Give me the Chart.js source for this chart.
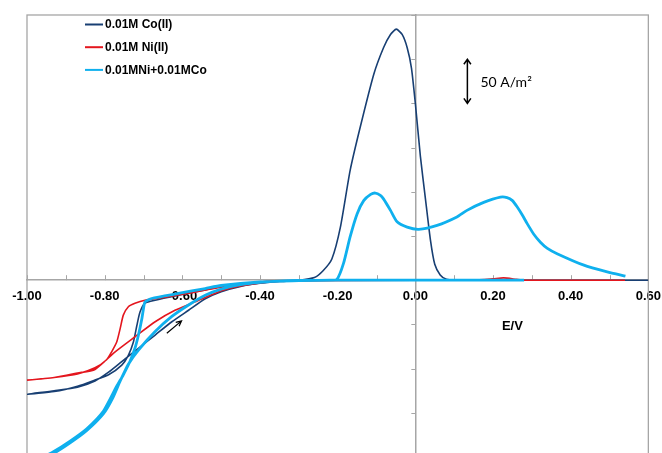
<!DOCTYPE html>
<html>
<head>
<meta charset="utf-8">
<script src="https://cdn.jsdelivr.net/npm/chart.js@4"></script>
<style>
  html, body { margin: 0; padding: 0; background: #fff; overflow: hidden; }
  #wrap { position: relative; width: 669px; height: 470px; }
</style>
</head>
<body>
<div id="wrap"><canvas id="cv"></canvas></div>
<script>
// Potencial (V) y densidad de corriente (A/m2)
const coE = [0.60, 0.30, 0.00, -0.20, -0.30, -0.40, -0.50, -0.541, -0.61, -0.67, -0.696, -0.709, -0.717, -0.726, -0.739, -0.756, -0.79, -0.825, -0.87, -0.93, -1.00,
  -0.93, -0.87, -0.825, -0.79, -0.756, -0.713, -0.67, -0.627, -0.584, -0.541, -0.50, -0.45, -0.40, -0.35, -0.30, -0.26, -0.237, -0.215, -0.193, -0.168, -0.142, -0.107, -0.082, -0.064, -0.049, -0.034, -0.021, -0.010, 0.000, 0.013, 0.026, 0.039, 0.050, 0.064, 0.080, 0.10, 0.30, 0.60]
const coJ = [0, 0, 0, 0, -0.5, -2.5, -7, -11, -17, -22.6, -26, -36, -51, -70, -85, -96, -107, -113, -120, -126, -129,
  -125, -121, -114, -104, -92, -77, -62, -47, -34, -21, -13, -7, -3.5, -1.5, 0, 3, 11, 24, 60, 124, 173, 233, 263, 278, 284, 278, 263, 240, 200, 140, 92, 45, 18, 6, 1, 0, 0, 0]

const niE = [0.54, 0.28, 0.00, -0.30, -0.40, -0.50, -0.588, -0.64, -0.696, -0.722, -0.739, -0.752, -0.76, -0.769, -0.782, -0.795, -0.825, -0.87, -0.93, -1.00,
  -0.93, -0.87, -0.825, -0.773, -0.722, -0.67, -0.619, -0.567, -0.50, -0.45, -0.40, -0.35, -0.30, -0.20, 0.15, 0.20, 0.227, 0.26, 0.28]
const niJ = [0, 0, 0, -0.5, -2, -8, -15, -19, -22.6, -26, -30, -39.5, -54.5, -70, -81, -90, -99, -106, -110, -113,
  -110, -105, -101, -81, -64, -47, -34, -24.5, -12, -6.5, -3, -1.2, -0.5, 0, 0, 1.5, 2.6, 1, 0]

const mixE = [0.28, 0.00, -0.20, -0.30, -0.40, -0.50, -0.541, -0.61, -0.679, -0.696, -0.70, -0.704, -0.713, -0.722, -0.735, -0.752, -0.769, -0.803, -0.846, -0.889, -0.932, -1.00,
  -0.932, -0.889, -0.846, -0.803, -0.78, -0.76, -0.739, -0.713, -0.67, -0.627, -0.584, -0.541, -0.50, -0.45, -0.40, -0.35, -0.30, -0.22, -0.202, -0.185, -0.168, -0.150, -0.133, -0.115, -0.103, -0.09, -0.082, -0.064, -0.047, -0.021, 0.009, 0.056, 0.107, 0.133, 0.176, 0.219, 0.236, 0.25, 0.262, 0.275, 0.288, 0.305, 0.322, 0.34, 0.365, 0.434, 0.494, 0.541]
const mixJ = [0, 0, 0, -0.5, -2, -6, -9.4, -15, -20.7, -24.5, -32, -43, -62, -77, -92, -107, -120, -148, -168, -182, -194, -210,
  -196, -184, -170, -151, -134, -114, -95, -79, -58, -41, -28, -17, -10, -5, -2.5, -1, -0.3, 0, 0.8, 19, 49, 75, 90, 97, 98.6, 96, 92, 79, 66, 60, 57.6, 62, 71.5, 79, 88, 94, 93.5, 90, 83, 74, 64, 52, 43, 36, 30, 17, 9.4, 4.5]

const seriesNames = ['0.01M Co(II)', '0.01M Ni(II)', '0.01MNi+0.01MCo']
const eMin = -1.0, eMax = 0.6, eStep = 0.1
const jMin = -200, jMax = 300, jStep = 50
// flecha de escala (50 A/m2) y flecha del sentido de barrido
const scaleBar = { e: 0.134, from: 200, to: 250, text: '50 A/m²' }
const scanArrow = { from: [-0.64, -60], to: [-0.602, -46] }

const toPoints = (xs, ys) => xs.map((v, i) => ({ x: v, y: ys[i] }))

const etiquetaX = v => {
  const r = Math.round(v * 10)
  if (r % 2 !== 0) return ''
  return (r / 10).toFixed(2)
}

const decor = {
  id: 'decor',
  beforeDatasetsDraw(chart) {
    const { ctx, chartArea: a, scales: { x, y } } = chart
    ctx.save()
    ctx.strokeStyle = '#a6a6a6'
    ctx.lineWidth = 1.3
    ctx.strokeRect(a.left, a.top, a.right - a.left, a.bottom - a.top)
    const x0 = x.getPixelForValue(0), y0 = y.getPixelForValue(0)
    ctx.lineWidth = 1
    ctx.beginPath()
    x.ticks.forEach(t => {
      const px = Math.round(x.getPixelForValue(t.value)) + 0.5
      ctx.moveTo(px, y0); ctx.lineTo(px, y0 - 5)
    })
    y.ticks.forEach(t => {
      const py = Math.round(y.getPixelForValue(t.value)) + 0.5
      ctx.moveTo(x0 - 4, py); ctx.lineTo(x0, py)
    })
    ctx.stroke()
    ctx.restore()
  },
  afterDraw(chart) {
    const { ctx, chartArea: a, scales: { x, y } } = chart
    ctx.save()
    // leyenda
    chart.data.datasets.forEach((ds, i) => {
      const ly = a.top + 9.5 + i * 22.7
      ctx.strokeStyle = ds.borderColor
      ctx.lineWidth = 2
      ctx.beginPath(); ctx.moveTo(a.left + 58, ly); ctx.lineTo(a.left + 76, ly); ctx.stroke()
      ctx.fillStyle = '#000'
      ctx.font = 'bold 12px "Liberation Sans", Arial, sans-serif'
      ctx.textBaseline = 'middle'
      ctx.fillText(ds.label, a.left + 78, ly + 0.5)
    })
    // titulo eje x
    ctx.font = 'bold 13px "Liberation Sans", Arial, sans-serif'
    ctx.textAlign = 'center'
    ctx.textBaseline = 'middle'
    ctx.fillText('E/V', x.getPixelForValue(0.25), y.getPixelForValue(0) + 46)
    // flecha doble de escala
    const bx = x.getPixelForValue(scaleBar.e)
    const b1 = y.getPixelForValue(scaleBar.to), b2 = y.getPixelForValue(scaleBar.from)
    ctx.strokeStyle = '#000'
    ctx.lineWidth = 1.5
    ctx.beginPath()
    ctx.moveTo(bx, b1); ctx.lineTo(bx, b2)
    ctx.moveTo(bx - 3.5, b1 + 5); ctx.lineTo(bx, b1); ctx.lineTo(bx + 3.5, b1 + 5)
    ctx.moveTo(bx - 3.5, b2 - 5); ctx.lineTo(bx, b2); ctx.lineTo(bx + 3.5, b2 - 5)
    ctx.stroke()
    ctx.font = '14px Lato, "Open Sans", sans-serif'
    ctx.textAlign = 'left'
    ctx.fillText(scaleBar.text, bx + 13, (b1 + b2) / 2 + 1)
    // flecha de barrido
    const sx = x.getPixelForValue(scanArrow.from[0]), sy = y.getPixelForValue(scanArrow.from[1])
    const ex = x.getPixelForValue(scanArrow.to[0]), ey = y.getPixelForValue(scanArrow.to[1])
    const ang = Math.atan2(ey - sy, ex - sx)
    ctx.lineWidth = 1.2
    ctx.beginPath()
    ctx.moveTo(sx, sy); ctx.lineTo(ex, ey)
    ctx.moveTo(ex - 6 * Math.cos(ang - 0.45), ey - 6 * Math.sin(ang - 0.45))
    ctx.lineTo(ex, ey)
    ctx.lineTo(ex - 6 * Math.cos(ang + 0.45), ey - 6 * Math.sin(ang + 0.45))
    ctx.stroke()
    ctx.restore()
  }
}

const data = {
  datasets: [
    { label: seriesNames[0], data: toPoints(coE, coJ), borderColor: '#183f73', borderWidth: 1.6, order: 3 },
    { label: seriesNames[1], data: toPoints(niE, niJ), borderColor: '#e4161e', borderWidth: 1.6, order: 2 },
    { label: seriesNames[2], data: toPoints(mixE, mixJ), borderColor: '#0fb0ee', borderWidth: 2.8, order: 1 }
  ]
}
data.datasets.forEach(ds => {
  ds.showLine = true
  ds.pointRadius = 0
  ds.tension = 0.2
  ds.fill = false
})

new Chart(document.getElementById('cv'), {
  type: 'scatter',
  data,
  options: {
    responsive: true,
    maintainAspectRatio: false,
    animation: false,
    layout: { padding: { left: 27, right: 14, top: 15, bottom: 13 } },
    plugins: { legend: { display: false }, tooltip: { enabled: false } },
    scales: {
      x: {
        type: 'linear',
        min: eMin, max: eMax,
        position: { y: 0 },
        grid: { display: false, drawTicks: false },
        border: { color: '#a6a6a6', width: 1.5 },
        ticks: {
          stepSize: eStep,
          autoSkip: false,
          maxRotation: 0,
          padding: 8,
          color: '#000',
          font: { family: '"Liberation Sans", Arial, sans-serif', size: 13, weight: 'bold' },
          callback: etiquetaX
        }
      },
      y: {
        type: 'linear',
        min: jMin, max: jMax,
        position: { x: 0 },
        grid: { display: false, drawTicks: false },
        border: { color: '#a6a6a6', width: 1.5 },
        ticks: { stepSize: jStep, display: false }
      }
    }
  },
  plugins: [decor]
})
</script>
</body>
</html>
